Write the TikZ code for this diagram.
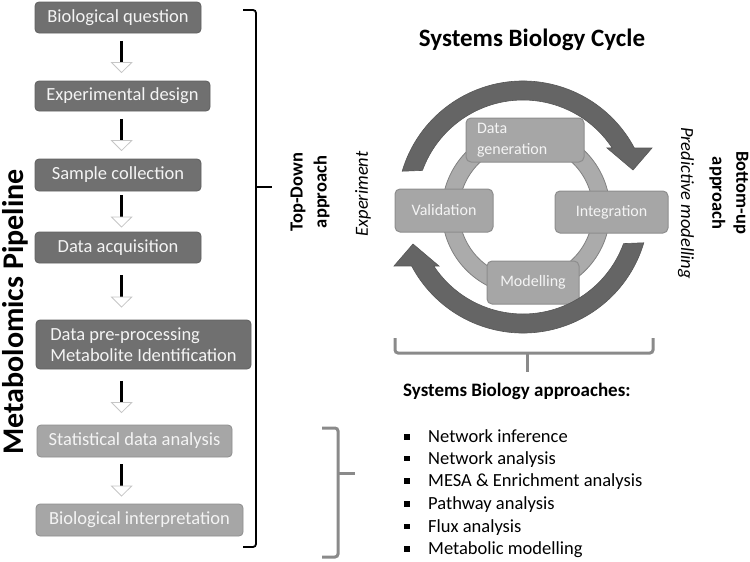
\documentclass[tikz,border=0pt]{standalone}
\usepackage{fontspec}
\setmainfont{Carlito}
\usepackage{tikz}
\usetikzlibrary{arrows.meta,calc}

\definecolor{stepdark}{HTML}{707070}
\definecolor{steplight}{HTML}{A6A6A6}
\definecolor{ringgray}{HTML}{ABABAB}
\definecolor{cyclegray}{HTML}{656565}
\definecolor{bracegray}{HTML}{8A8A8A}
\definecolor{boxtext}{HTML}{F4F4F4}

\tikzset{
  pipebox/.style={draw=#1!85!black, fill=#1, rounded corners=4pt, line width=0.8pt,
    text=boxtext, font=\fontsize{18.5}{21.5}\selectfont, inner sep=0pt, align=left},
  cyclebox/.style={draw=steplight!85!black, fill=steplight, rounded corners=5pt, line width=1pt,
    text=boxtext, font=\fontsize{16}{21}\selectfont, inner sep=0pt, align=left},
  flow/.style={line width=3.5pt, black, shorten <=#1, shorten >=#1,
    -{Triangle[length=11pt,width=22pt,fill=white,color=gray!45,line width=0.8pt]}},
  bracket/.style={line width=1.8pt, rounded corners=3pt},
  graybracket/.style={line width=3pt, bracegray, rounded corners=3pt},
  cyclearrow/.style={fill=cyclegray, draw=cyclegray!85!black, line width=0.6pt},
  listitem/.style={anchor=west, inner sep=0pt, font=\fontsize{18.5}{22}\selectfont}
}

\newcommand{\itembox}{\makebox[24pt][l]{\rule[3pt]{5.5pt}{5.5pt}}}

\begin{document}
\begin{tikzpicture}[x=1pt,y=-1pt]

\useasboundingbox (0,0) rectangle (750,562);

% Pipeline boxes
\node[pipebox=stepdark, minimum width=166pt, minimum height=31pt] (question) at (118,17.5) {Biological question};
\node[pipebox=stepdark, minimum width=175pt, minimum height=30pt] (design) at (122.5,96) {Experimental design};
\node[pipebox=stepdark, minimum width=166pt, minimum height=32pt] (sampling) at (118,175) {Sample collection};
\node[pipebox=stepdark, minimum width=166pt, minimum height=31pt] (acquisition) at (118,247.5) {Data acquisition};
\node[pipebox=stepdark, minimum width=215pt, minimum height=49pt] (preproc) at (143.5,344.5)
  {Data pre-processing\\Metabolite Identification};
\node[pipebox=steplight, minimum width=195pt, minimum height=32pt] (stats) at (134.5,441) {Statistical data analysis};
\node[pipebox=steplight, minimum width=207pt, minimum height=32pt] (interp) at (139.5,520) {Biological interpretation};

% Arrows between boxes
\draw[flow=7.5pt] ([xshift=87pt]question.south west) -- ([xshift=87pt]design.north west);
\draw[flow=7.5pt] ([xshift=87pt]design.south west) -- ([xshift=87pt]sampling.north west);
\draw[flow=4pt] ([xshift=87pt]sampling.south west) -- ([xshift=87pt]acquisition.north west);
\draw[flow=12pt] ([xshift=87pt]acquisition.south west) -- ([xshift=86pt]preproc.north west);
\draw[flow=11.5pt] ([xshift=86pt]preproc.south west) -- ([xshift=85pt]stats.north west);
\draw[flow=7pt] ([xshift=85pt]stats.south west) -- ([xshift=86pt]interp.north west);

% Pipeline label and bracket
\node[rotate=90, inner sep=0pt, font=\fontsize{30}{36}\bfseries] (pipeline) at (15,312) {Metabolomics Pipeline};
\draw[bracket] (243,10) -- (256,10) -- (256,547) -- (243,547);
\draw[bracket] (256,187) -- (272,187);

% Side labels
\node[rotate=90, align=center, inner sep=0pt, font=\fontsize{18.5}{24}\bfseries] (topdown) at (310,192) {Top-Down\\approach};
\node[rotate=90, inner sep=0pt, font=\fontsize{18.5}{22}\itshape] (experiment) at (363,194) {Experiment};
\node[rotate=-90, inner sep=0pt, font=\fontsize{18.5}{22}\itshape] (predictive) at (686,203) {Predictive modelling};
\node[rotate=-90, align=center, inner sep=0pt, font=\fontsize{18.5}{24}\bfseries] (bottomup) at (729,193) {Bottom-up\\approach};

% Cycle
\node[font=\fontsize{25}{30}\bfseries, inner sep=0pt] (title) at (532,40) {Systems Biology Cycle};
\draw[draw=ringgray!75!black, fill=ringgray, line width=0.8pt, even odd rule]
  (526,211) circle[radius=84] (526,211) circle[radius=67];

\node[cyclebox, minimum width=118pt, minimum height=44pt, text width=96pt] (datagen) at (525,140) {Data\\generation};
\node[cyclebox, minimum width=98pt, minimum height=43pt] (validation) at (444,210.5) {Validation};
\node[cyclebox, minimum width=113pt, minimum height=42pt] (integration) at (611.5,212) {Integration};
\node[cyclebox, minimum width=92pt, minimum height=43pt] (modelling) at (533,282.5) {Modelling};

% Big curved arrows
\filldraw[cyclearrow] ($(523,207)+(196.5:126)$) arc[start angle=196.5, end angle=332.1, radius=126]
  -- (652,148) -- (633,170) -- (607,148)
  -- ($(523,207)+(326.5:107)$) arc[start angle=326.5, end angle=200, radius=107] -- cycle;
\filldraw[cyclearrow] ($(523,207)+(16.5:126)$) arc[start angle=16.5, end angle=152.1, radius=126]
  -- (394,266) -- (413,244) -- (439,266)
  -- ($(523,207)+(146.5:107)$) arc[start angle=146.5, end angle=20, radius=107] -- cycle;

% Approaches
\draw[graybracket] (395,338) -- (395,353) -- (653,353) -- (653,338);
\draw[graybracket] (527,353) -- (527,372);
\node[anchor=west, inner sep=0pt, font=\fontsize{19}{22}\bfseries] (approaches) at (403,391) {Systems Biology approaches:};

\node[listitem] (inference) at (404,436.5) {\itembox Network inference};
\node[listitem] (netanalysis) at (404,459.2) {\itembox Network analysis};
\node[listitem] (mesa) at (404,481.9) {\itembox MESA \& Enrichment analysis};
\node[listitem] (pathway) at (404,504.6) {\itembox Pathway analysis};
\node[listitem] (flux) at (404,527.3) {\itembox Flux analysis};
\node[listitem] (metmodel) at (404,550) {\itembox Metabolic modelling};

\draw[graybracket] (322,428) -- (338,428) -- (338,557) -- (322,557);
\draw[graybracket] (338,473) -- (355,473);

\end{tikzpicture}
\end{document}
